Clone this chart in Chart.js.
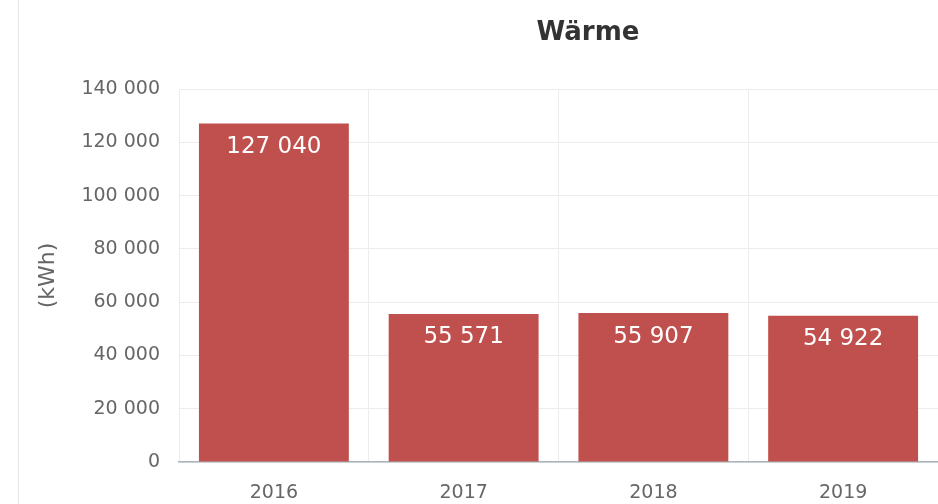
<!DOCTYPE html>
<html>
<head>
<meta charset="utf-8">
<script src="https://cdn.jsdelivr.net/npm/chart.js@4/dist/chart.umd.min.js"></script>
<style>
  html, body { margin: 0; padding: 0; background: #fff; overflow: hidden; }
  .wrap { position: relative; width: 938px; height: 504px; }
  .edge { position: absolute; left: 18px; top: 0; width: 1px; height: 504px; background: #e4e4e4; }
  canvas { position: absolute; left: 0; top: 0; }
</style>
</head>
<body>
<div class="wrap">
  <div class="edge"></div>
  <canvas id="chart" width="938" height="504"></canvas>
</div>
<script>
const categories = ['2016', '2017', '2018', '2019'];
const waermeValues = [127040, 55571, 55907, 54922];
const yTicks = [0, 20000, 40000, 60000, 80000, 100000, 120000, 140000];

const FONT = '"DejaVu Sans", Verdana, sans-serif';
const fmt = (v) => String(v).replace(/\B(?=(\d{3})+(?!\d))/g, ' ');

// title sits off-centre in the source, so draw it by hand
const titlePlugin = {
  id: 'titleText',
  afterDraw(chart) {
    const ctx = chart.ctx;
    ctx.save();
    ctx.font = 'bold 26px ' + FONT;
    ctx.fillStyle = '#333';
    ctx.textAlign = 'center';
    ctx.textBaseline = 'middle';
    ctx.fillText('Wärme', 588, 33);
    ctx.restore();
  },
};

const barLabels = {
  id: 'barLabels',
  afterDatasetsDraw(chart) {
    const ctx = chart.ctx;
    const meta = chart.getDatasetMeta(0);
    ctx.save();
    ctx.font = '23px ' + FONT;
    ctx.fillStyle = '#fff';
    ctx.textAlign = 'center';
    ctx.textBaseline = 'top';
    meta.data.forEach((bar, i) => {
      ctx.fillText(fmt(waermeValues[i]), bar.x, bar.y + 12);
    });
    ctx.restore();
  },
};

new Chart(document.getElementById('chart'), {
  type: 'bar',
  data: {
    labels: categories,
    datasets: [{
      label: 'Wärme',
      data: waermeValues,
      backgroundColor: '#c0504d',
      borderWidth: 0,
      categoryPercentage: 1,
      barPercentage: 0.79,
    }],
  },
  options: {
    responsive: false,
    animation: false,
    layout: { padding: { top: 89, left: 0, right: 0, bottom: 0 } },
    plugins: {
      legend: { display: false },
      tooltip: { enabled: false },
      title: { display: false },
    },
    scales: {
      x: {
        grid: { color: '#ececec', drawTicks: false, offset: true },
        border: { color: '#aab4be', width: 1.5 },
        ticks: { color: '#666', font: { family: FONT, size: 19 }, padding: 20 },
        afterFit(scale) { scale.height = 42; },
      },
      y: {
        min: 0,
        max: 140000,
        afterBuildTicks(scale) { scale.ticks = yTicks.map(v => ({ value: v })); },
        grid: { color: '#ececec', drawTicks: false },
        border: { display: false },
        ticks: {
          color: '#666',
          font: { family: FONT, size: 19 },
          padding: 19,
          callback: (v) => fmt(v),
        },
        title: {
          display: true,
          text: '(kWh)',
          color: '#666',
          font: { family: FONT, size: 22 },
          padding: { top: 35, bottom: 0 },
        },
        afterFit(scale) { scale.width = 179; },
      },
    },
  },
  plugins: [titlePlugin, barLabels],
});
</script>
</body>
</html>
